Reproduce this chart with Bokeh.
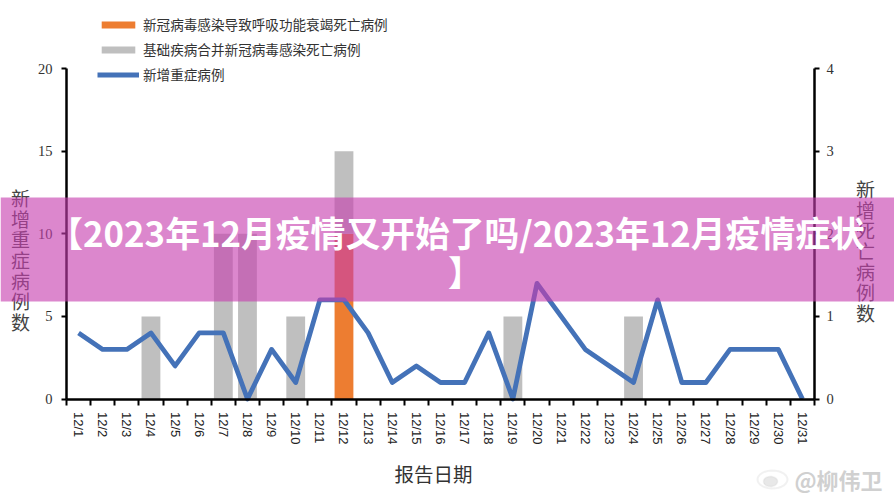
import math
import numpy as np
from bokeh.plotting import figure
from bokeh.models import (Range1d, LinearAxis, FixedTicker, Label, BoxAnnotation, PolyAnnotation,
                          Legend, LegendItem)
from bokeh.embed import file_html
from bokeh.resources import INLINE

days = list(range(1, 32))
tick_labels = [f"12/{d}" for d in days]
new_severe = [4, 3, 3, 4, 2, 4, 4, 0, 3, 1, 6, 6, 4, 1, 2, 1, 1, 4, 0, 7, 5, 3, 2, 1, 6, 1, 1, 3, 3, 3, 0]
covid_deaths = [0, 0, 0, 0, 0, 0, 0, 0, 0, 0, 0, 2, 0, 0, 0, 0, 0, 0, 0, 0, 0, 0, 0, 0, 0, 0, 0, 0, 0, 0, 0]
comorbid_deaths = [0, 0, 0, 1, 0, 0, 2, 2, 0, 1, 0, 1, 0, 0, 0, 0, 0, 0, 1, 0, 0, 0, 0, 1, 0, 0, 0, 0, 0, 0, 0]

W, H = 894, 499
# plot box inside the canvas (the frame fills the canvas so texts outside the axes are not clipped)
L, R, T, B = 66.0, 814.0, 68.0, 398.5
ux = (R - L) / 31
uy = (B - T) / 20
x_range = Range1d(0.5 - L / ux, 31.5 + (W - R) / ux)
y_range = Range1d(-(H - B) / uy, 20 + T / uy)

p = figure(width=W, height=H, output_backend="svg", toolbar_location=None,
           x_range=x_range, y_range=y_range, min_border=0, outline_line_color=None)
p.xgrid.visible = False
p.ygrid.visible = False
p.extra_y_ranges = {"deaths": Range1d(y_range.start / 5, y_range.end / 5)}

AX = "#000000"
TICK_FONT = "Liberation Serif"

xa = p.xaxis[0]
xa.fixed_location = 0
xa.bounds = (0.5, 31.5)
xa.ticker = FixedTicker(ticks=days, minor_ticks=[d - 0.5 for d in days] + [31.5])
xa.major_label_overrides = {d: t for d, t in zip(days, tick_labels)}
xa.major_label_orientation = -math.pi / 2
xa.major_label_standoff = 7
xa.major_label_text_font = "Liberation Sans"
xa.major_label_text_font_size = "13px"
xa.major_label_text_color = "#222222"
xa.major_tick_in = 0
xa.major_tick_out = 0
xa.minor_tick_in = 0
xa.minor_tick_out = 6
xa.minor_tick_line_color = AX
xa.minor_tick_line_width = 2
xa.axis_line_color = AX
xa.axis_line_width = 2.5

ya = p.yaxis[0]
ya.fixed_location = 0.5
ya.bounds = (0, 20)
ya.ticker = FixedTicker(ticks=[0, 5, 10, 15, 20])
yr = LinearAxis(y_range_name="deaths", ticker=FixedTicker(ticks=[0, 1, 2, 3, 4]),
                fixed_location=31.5, bounds=(0, 4))
p.add_layout(yr, "right")
for a, standoff in ((ya, 9), (yr, 7)):
    a.major_label_text_font = TICK_FONT
    a.major_label_text_font_size = "14.5px"
    a.major_label_text_color = "#333333"
    a.major_label_standoff = standoff
    a.major_tick_in = 0
    a.major_tick_out = 5
    a.major_tick_line_color = AX
    a.major_tick_line_width = 2
    a.minor_tick_in = 0
    a.minor_tick_out = 0
    a.axis_line_color = AX
    a.axis_line_width = 2.5

orange = np.array(covid_deaths)
gray = np.array(comorbid_deaths)
bar_o = p.vbar(x=days, top=orange, width=0.78, fill_color="#ED7D31", line_color=None, y_range_name="deaths")
bar_g = p.vbar(x=days, bottom=orange, top=orange + gray, width=0.78, fill_color="#BFBFBF", line_color=None,
               y_range_name="deaths")
ln = p.line(days, new_severe, line_color="#4472B8", line_width=4.8, line_join="round")

legend = Legend(items=[LegendItem(label="新冠病毒感染导致呼吸功能衰竭死亡病例", renderers=[bar_o]),
                       LegendItem(label="基础疾病合并新冠病毒感染死亡病例", renderers=[bar_g]),
                       LegendItem(label="新增重症病例", renderers=[ln])],
                location=(97, 415), orientation="vertical", border_line_color=None,
                background_fill_alpha=0, glyph_width=42, glyph_height=9, label_height=16,
                label_width=250, spacing=5, padding=0, margin=0, label_standoff=4,
                label_text_font="Noto Sans CJK SC", label_text_font_size="13.6px",
                label_text_color="#333333")
p.add_layout(legend, "center")

CJK = "Noto Sans CJK SC"
def label(text, x, y, size, color="#333333", style="normal", align="center", baseline="middle", lh=1.2, level="annotation"):
    lb = Label(x=x, y=y, x_units="canvas", y_units="canvas", text=text, text_font=CJK,
               text_font_size=size, text_color=color, text_font_style=style, text_align=align,
               text_baseline=baseline, text_line_height=lh, level=level)
    p.add_layout(lb)
    return lb

label("报告日期", 433, 473, "19.5px")
label("\n".join("新增重症病例数"), 20, 259, "19px", color="#444444", lh=0.76)
label("\n".join("新增死亡病例数"), 865, 250, "19px", color="#444444", lh=0.76)

# watermark
t = np.linspace(0, 2 * np.pi, 28)
p.add_layout(PolyAnnotation(xs=(772 + 15 * np.cos(t)).tolist(), ys=(479 + 9 * np.sin(t)).tolist(),
                            xs_units="canvas", ys_units="canvas", fill_color="#FFFFFF", fill_alpha=0.7,
                            line_color="#CFCFCF", line_width=2))
p.add_layout(PolyAnnotation(xs=(770 + 7 * np.cos(t)).tolist(), ys=(481 + 5 * np.sin(t)).tolist(),
                            xs_units="canvas", ys_units="canvas", fill_color="#D8D8D8", fill_alpha=0.6,
                            line_color="#CFCFCF", line_width=1.5))
label("@柳伟卫", 838, 478, "22px", color="#D0D0D0", style="bold")

# banner
p.add_layout(BoxAnnotation(left=0, right=W, top=197, bottom=301, left_units="canvas", right_units="canvas",
                           top_units="canvas", bottom_units="canvas", fill_color="#C73DAE", fill_alpha=0.62,
                           line_color=None, level="overlay"))
label("【2023年12月疫情又开始了吗/2023年12月疫情症状", 456, 231, "34.8px", color="#FFFFFF", style="bold",
      level="overlay")
label("】", 465, 270, "34.8px", color="#FFFFFF", style="bold", level="overlay")

open("out.html", "w").write(file_html(p, INLINE))
